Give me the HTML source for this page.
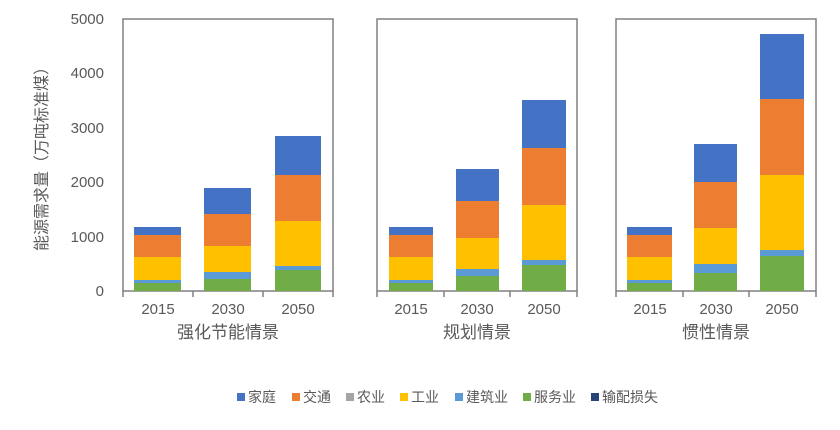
<!DOCTYPE html>
<html><head><meta charset="utf-8"><style>body{margin:0;background:#fff}</style></head><body>
<svg width="840" height="425" xmlns="http://www.w3.org/2000/svg" font-family="Liberation Sans, Noto Sans CJK SC, sans-serif" fill="#595959">
<g font-size="15" text-anchor="end">
<text x="104" y="296">0</text><text x="104" y="242">1000</text><text x="104" y="187">2000</text><text x="104" y="133">3000</text><text x="104" y="78">4000</text><text x="104" y="24">5000</text>
</g>
<text transform="translate(47,155) rotate(-90)" font-size="16" text-anchor="middle">能源需求量（万吨标准煤）</text>
<g fill="none" stroke="#808080" stroke-width="1.5">
<rect x="123" y="19" width="210" height="272"/>
<rect x="377" y="19" width="200" height="272"/>
<rect x="616" y="19" width="200" height="272"/>
<path d="M193 291v6M263 291v6M444 291v6M510 291v6M683 291v6M749 291v6M123 291v6M333 291v6M377 291v6M577 291v6M616 291v6M816 291v6"/>
</g>
<g>
<rect x="134" y="227" width="47" height="8" fill="#4472C4"/><rect x="134" y="235" width="47" height="22" fill="#ED7D31"/><rect x="134" y="257" width="47" height="23" fill="#FFC000"/><rect x="134" y="280" width="47" height="3" fill="#5B9BD5"/><rect x="134" y="283" width="47" height="8" fill="#70AD47"/>
<rect x="204" y="188" width="47" height="26" fill="#4472C4"/><rect x="204" y="214" width="47" height="32" fill="#ED7D31"/><rect x="204" y="246" width="47" height="26" fill="#FFC000"/><rect x="204" y="272" width="47" height="7" fill="#5B9BD5"/><rect x="204" y="279" width="47" height="12" fill="#70AD47"/>
<rect x="275" y="136" width="46" height="39" fill="#4472C4"/><rect x="275" y="175" width="46" height="46" fill="#ED7D31"/><rect x="275" y="221" width="46" height="45" fill="#FFC000"/><rect x="275" y="266" width="46" height="4" fill="#5B9BD5"/><rect x="275" y="270" width="46" height="21" fill="#70AD47"/>
<rect x="389" y="227" width="44" height="8" fill="#4472C4"/><rect x="389" y="235" width="44" height="22" fill="#ED7D31"/><rect x="389" y="257" width="44" height="23" fill="#FFC000"/><rect x="389" y="280" width="44" height="3" fill="#5B9BD5"/><rect x="389" y="283" width="44" height="8" fill="#70AD47"/>
<rect x="456" y="169" width="43" height="32" fill="#4472C4"/><rect x="456" y="201" width="43" height="37" fill="#ED7D31"/><rect x="456" y="238" width="43" height="31" fill="#FFC000"/><rect x="456" y="269" width="43" height="7" fill="#5B9BD5"/><rect x="456" y="276" width="43" height="15" fill="#70AD47"/>
<rect x="522" y="100" width="44" height="48" fill="#4472C4"/><rect x="522" y="148" width="44" height="57" fill="#ED7D31"/><rect x="522" y="205" width="44" height="55" fill="#FFC000"/><rect x="522" y="260" width="44" height="5" fill="#5B9BD5"/><rect x="522" y="265" width="44" height="26" fill="#70AD47"/>
<rect x="627" y="227" width="45" height="8" fill="#4472C4"/><rect x="627" y="235" width="45" height="22" fill="#ED7D31"/><rect x="627" y="257" width="45" height="23" fill="#FFC000"/><rect x="627" y="280" width="45" height="3" fill="#5B9BD5"/><rect x="627" y="283" width="45" height="8" fill="#70AD47"/>
<rect x="694" y="144" width="43" height="38" fill="#4472C4"/><rect x="694" y="182" width="43" height="46" fill="#ED7D31"/><rect x="694" y="228" width="43" height="36" fill="#FFC000"/><rect x="694" y="264" width="43" height="9" fill="#5B9BD5"/><rect x="694" y="273" width="43" height="18" fill="#70AD47"/>
<rect x="760" y="34" width="44" height="65" fill="#4472C4"/><rect x="760" y="99" width="44" height="76" fill="#ED7D31"/><rect x="760" y="175" width="44" height="75" fill="#FFC000"/><rect x="760" y="250" width="44" height="6" fill="#5B9BD5"/><rect x="760" y="256" width="44" height="35" fill="#70AD47"/>
</g>
<g font-size="15" text-anchor="middle">
<text x="158" y="314">2015</text><text x="228" y="314">2030</text><text x="298" y="314">2050</text>
<text x="411" y="314">2015</text><text x="477" y="314">2030</text><text x="544" y="314">2050</text>
<text x="650" y="314">2015</text><text x="716" y="314">2030</text><text x="782" y="314">2050</text>
</g>
<g font-size="17" text-anchor="middle">
<text x="228" y="338">强化节能情景</text><text x="477" y="338">规划情景</text><text x="716" y="338">惯性情景</text>
</g>
<g font-size="14">
<rect x="237" y="393" width="8" height="8" fill="#4472C4"/><text x="248" y="402">家庭</text>
<rect x="292" y="393" width="8" height="8" fill="#ED7D31"/><text x="303" y="402">交通</text>
<rect x="346" y="393" width="8" height="8" fill="#A5A5A5"/><text x="357" y="402">农业</text>
<rect x="400" y="393" width="8" height="8" fill="#FFC000"/><text x="411" y="402">工业</text>
<rect x="455" y="393" width="8" height="8" fill="#5B9BD5"/><text x="466" y="402">建筑业</text>
<rect x="523" y="393" width="8" height="8" fill="#70AD47"/><text x="534" y="402">服务业</text>
<rect x="591" y="393" width="8" height="8" fill="#264478"/><text x="602" y="402">输配损失</text>
</g>
</svg>
</body></html>
